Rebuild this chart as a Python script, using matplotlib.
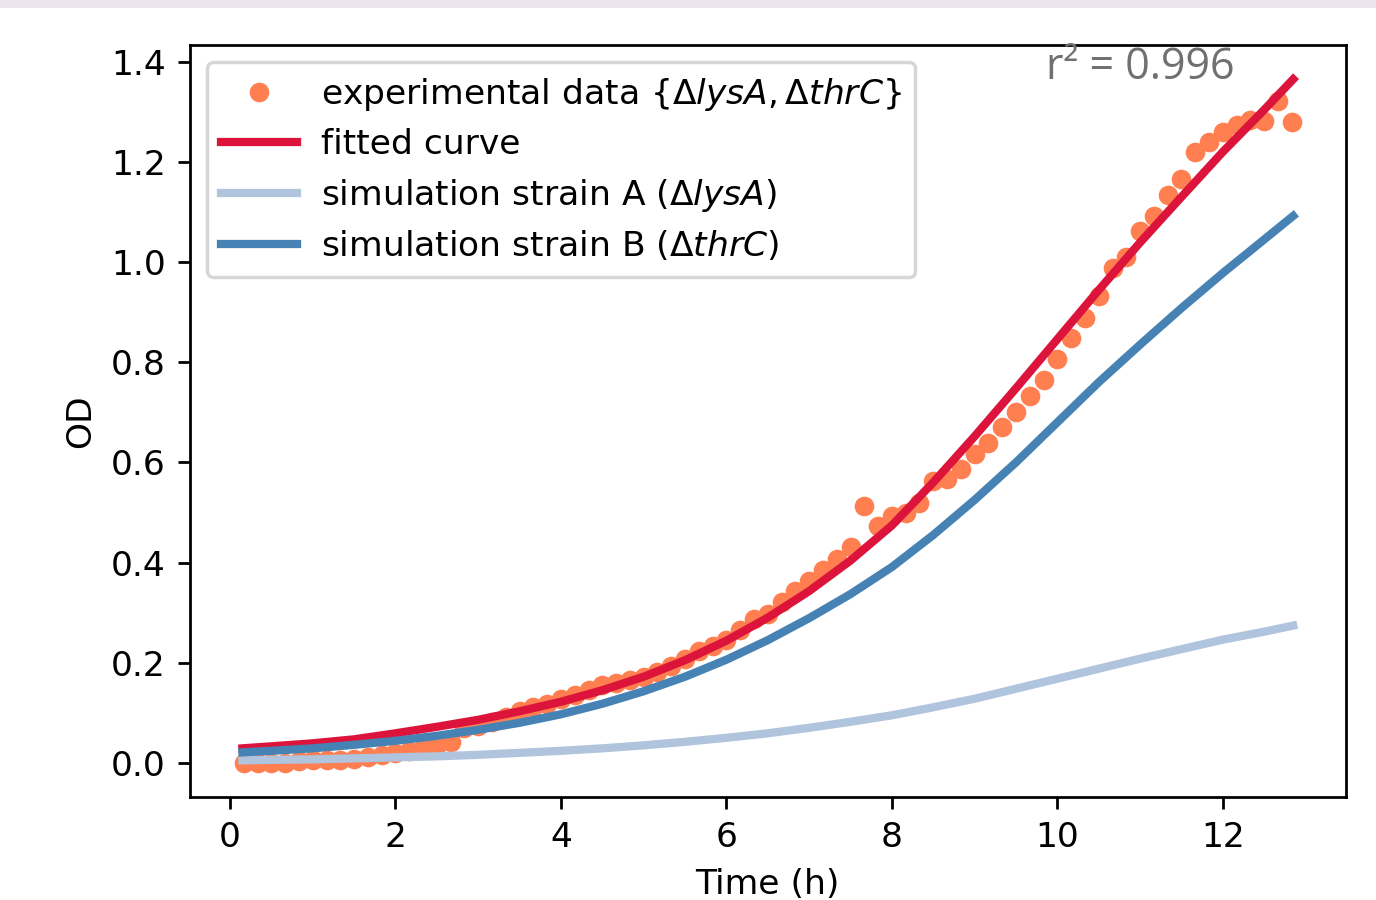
import matplotlib.pyplot as plt
from matplotlib.patches import Rectangle

# experimental OD readings, one every 10 min
time_min = [10, 20, 30, 40, 50, 60, 70, 80, 90, 100,
            110, 120, 130, 140, 150, 160, 170, 180, 190, 200,
            210, 220, 230, 240, 250, 260, 270, 280, 290, 300,
            310, 320, 330, 340, 350, 360, 370, 380, 390, 400,
            410, 420, 430, 440, 450, 460, 470, 480, 490, 500,
            510, 520, 530, 540, 550, 560, 570, 580, 590, 600,
            610, 620, 630, 640, 650, 660, 670, 680, 690, 700,
            710, 720, 730, 740, 750, 760, 770]
od_exp = [0.000, 0.000, 0.000, 0.000, 0.003, 0.005, 0.005, 0.006, 0.008, 0.012,
          0.016, 0.020, 0.024, 0.030, 0.036, 0.042, 0.070, 0.074, 0.082, 0.092,
          0.104, 0.112, 0.118, 0.128, 0.135, 0.145, 0.155, 0.160, 0.166, 0.172,
          0.182, 0.194, 0.208, 0.224, 0.234, 0.246, 0.266, 0.288, 0.298, 0.322,
          0.344, 0.364, 0.386, 0.408, 0.430, 0.512, 0.472, 0.492, 0.498, 0.518,
          0.562, 0.566, 0.586, 0.616, 0.638, 0.670, 0.700, 0.732, 0.764, 0.806,
          0.848, 0.888, 0.932, 0.988, 1.010, 1.062, 1.092, 1.134, 1.166, 1.220,
          1.240, 1.260, 1.274, 1.284, 1.282, 1.322, 1.280]
time_exp = [m / 60 for m in time_min]

# model curves, read every half hour (h)
t_curve = [0.15, 0.5, 1.0, 1.5, 2.0, 2.5, 3.0, 3.5, 4.0, 4.5,
           5.0, 5.5, 6.0, 6.5, 7.0, 7.5, 8.0, 8.5, 9.0, 9.5,
           10.0, 10.5, 11.0, 11.5, 12.0, 12.5, 12.85]
od_fit = [0.029, 0.033, 0.039, 0.047, 0.059, 0.072, 0.086, 0.103, 0.122, 0.145,
          0.172, 0.205, 0.244, 0.290, 0.343, 0.404, 0.474, 0.560, 0.652, 0.748,
          0.846, 0.944, 1.039, 1.130, 1.220, 1.304, 1.365]
od_sim_a = [0.005, 0.006, 0.007, 0.009, 0.011, 0.013, 0.016, 0.020, 0.024, 0.029,
            0.035, 0.042, 0.050, 0.059, 0.070, 0.082, 0.095, 0.111, 0.128, 0.148,
            0.168, 0.188, 0.208, 0.227, 0.246, 0.262, 0.274]
od_sim_b = [0.021, 0.024, 0.029, 0.036, 0.044, 0.054, 0.066, 0.080, 0.097, 0.118,
            0.143, 0.172, 0.206, 0.245, 0.289, 0.337, 0.391, 0.455, 0.525, 0.600,
            0.680, 0.760, 0.835, 0.908, 0.978, 1.045, 1.092]

r2_text = "r² = 0.996"

fig = plt.figure(figsize=(1376 / 248, 900 / 248), dpi=248)
ax = fig.add_axes([0.138, 0.1144, 0.840, 0.8356])

# strip at the top of the screenshot
fig.patches.append(Rectangle((0, 1 - 8 / 900), 1, 8 / 900, transform=fig.transFigure,
                             facecolor='#ede3ec', edgecolor='none'))

ax.plot(time_exp, od_exp, 'o', color='coral', markersize=4.7,
        label=r'experimental data $\{\Delta lysA, \Delta thrC\}$')
ax.plot(t_curve, od_fit, color='crimson', lw=2.4, label='fitted curve')
ax.plot(t_curve, od_sim_a, color='lightsteelblue', lw=2.4,
        label=r'simulation strain A ($\Delta lysA$)')
ax.plot(t_curve, od_sim_b, color='steelblue', lw=2.4,
        label=r'simulation strain B ($\Delta thrC$)')

ax.text(11.0, 1.365, r2_text, color='#707070', fontsize=12.5, family='Open Sans',
        ha='center', va='baseline')

ax.set_xticks([0, 2, 4, 6, 8, 10, 12])
ax.set_yticks([0.0, 0.2, 0.4, 0.6, 0.8, 1.0, 1.2, 1.4])
ax.set_xlabel('Time (h)')
ax.set_ylabel('OD')
ax.legend(loc='upper left', handlelength=2.2, handletextpad=0.7, labelspacing=0.45)

fig.savefig('out.png', dpi=248)
